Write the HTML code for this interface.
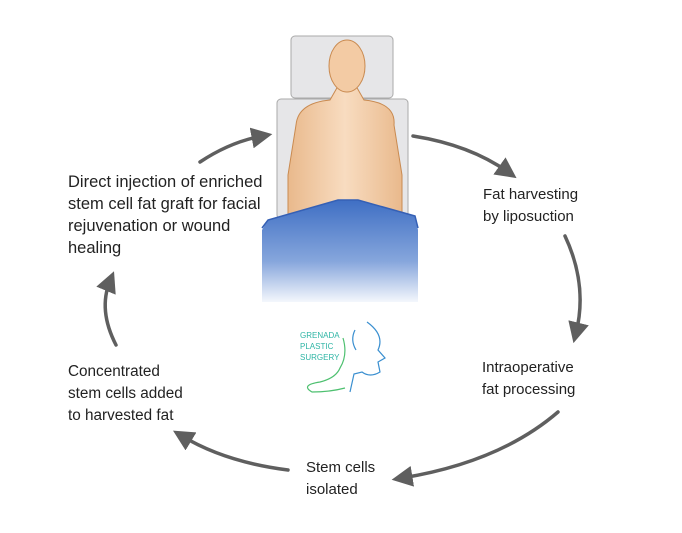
<!DOCTYPE html>
<html><head><meta charset="utf-8"><style>
body{margin:0;background:#fff;width:682px;height:533px;overflow:hidden;position:relative;font-family:"Liberation Sans",sans-serif;}
.t{position:absolute;font-size:15px;line-height:22px;color:#222;}
.l{font-size:16.5px;}
</style></head><body>
<svg width="682" height="533" style="position:absolute;left:0;top:0">
<defs>
<linearGradient id="bl" x1="0" y1="0" x2="0" y2="1"><stop offset="0" stop-color="#3f6fc4"/><stop offset="0.6" stop-color="#86a6dc"/><stop offset="1" stop-color="#f4f7fc"/></linearGradient>
<linearGradient id="sk" x1="0" y1="0" x2="1" y2="0"><stop offset="0" stop-color="#e9b98c"/><stop offset="0.5" stop-color="#f8dcc0"/><stop offset="1" stop-color="#e9b98c"/></linearGradient>
<marker id="ah" markerWidth="6" markerHeight="6" refX="3" refY="3" orient="auto" markerUnits="strokeWidth"><path d="M0,0 L6,3 L0,6 Z" fill="#5f5f5f"/></marker>
</defs>
<rect x="291" y="36" width="102" height="62" rx="4" fill="#e6e6e8" stroke="#aaa"/>
<rect x="277" y="99" width="131" height="120" rx="4" fill="#e6e6e8" stroke="#aaa"/>
<path d="M296,125 Q298,103 330,100 L338,86 L356,86 L364,100 Q396,103 394,125 L402,175 L402,214 L288,214 L288,175 Z" fill="url(#sk)" stroke="#c98a50"/>
<ellipse cx="347" cy="66" rx="18" ry="26" fill="#f3cba4" stroke="#c98a50"/>
<path d="M268,220 L338,200 L358,200 L415,216 L418,230 L418,302 L262,302 L262,230 Z" fill="url(#bl)"/>
<path d="M262,228 L268,220 L338,200 L358,200 L415,216 L418,228" fill="none" stroke="#3560b5" stroke-width="1.5"/>
<g fill="none" stroke="#5f5f5f" stroke-width="3.5" stroke-linecap="round">
<path d="M200,162 Q230,142 262,136" marker-end="url(#ah)"/>
<path d="M413,136 Q470,145 508,172" marker-end="url(#ah)"/>
<path d="M565,236 Q588,285 576,333" marker-end="url(#ah)"/>
<path d="M558,412 Q500,462 402,478" marker-end="url(#ah)"/>
<path d="M288,470 Q225,462 182,436" marker-end="url(#ah)"/>
<path d="M116,345 Q98,310 110,281" marker-end="url(#ah)"/>
</g>
<g fill="none" stroke="#3a8fd0" stroke-width="1.2">
<path d="M367,322 Q385,335 378,350 L385,358 L378,362 L380,372 Q370,378 362,372 L354,374 L350,392"/>
<path d="M355,330 Q350,340 356,350"/>
</g>
<path d="M343,338 Q348,355 340,368 Q336,378 320,382 Q300,385 312,392 Q330,392 345,388" fill="none" stroke="#4ec070" stroke-width="1.2"/>
<text x="300" y="338" font-size="8" fill="#2fb5a5" font-family="Liberation Sans">GRENADA</text>
<text x="300" y="349" font-size="8" fill="#2fb5a5" font-family="Liberation Sans">PLASTIC</text>
<text x="300" y="360" font-size="8" fill="#2fb5a5" font-family="Liberation Sans">SURGERY</text>
</svg>
<div class="t l" style="left:68px;top:171px">Direct injection of enriched<br>stem cell fat graft for facial<br>rejuvenation or wound<br>healing</div>
<div class="t" style="left:483px;top:184px">Fat harvesting<br>by liposuction</div>
<div class="t" style="left:482px;top:357px">Intraoperative<br>fat processing</div>
<div class="t" style="left:306px;top:457px">Stem cells<br>isolated</div>
<div class="t" style="left:68px;top:361px;font-size:15.3px">Concentrated<br>stem cells added<br>to harvested fat</div>
</body></html>
